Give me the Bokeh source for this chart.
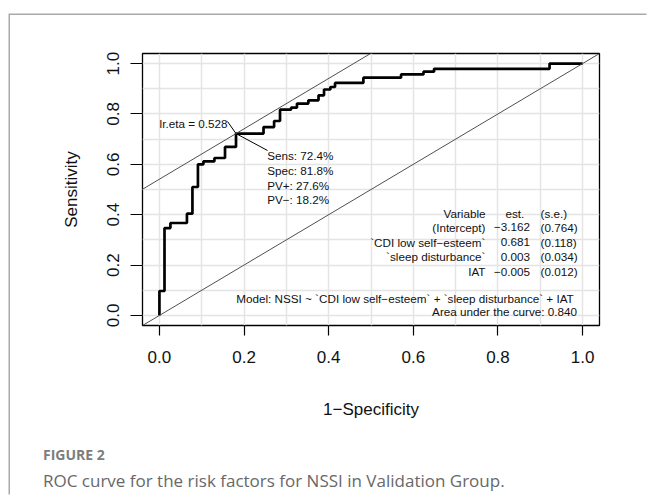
from bokeh.plotting import figure
from bokeh.models import FixedTicker, Slope, Div
from bokeh.layouts import column
from bokeh.core.properties import value
from bokeh.embed import file_html
from bokeh.resources import INLINE

# ---------------- data ----------------
fpr = [0.0, 0.0, 0.012, 0.012, 0.026, 0.026, 0.065, 0.065, 0.078, 0.078,
       0.091, 0.091, 0.104, 0.104, 0.130, 0.130, 0.155, 0.155, 0.181, 0.181,
       0.246, 0.246, 0.271, 0.271, 0.285, 0.285, 0.311, 0.311, 0.325, 0.325,
       0.352, 0.352, 0.376, 0.376, 0.389, 0.389, 0.404, 0.404, 0.415, 0.415,
       0.482, 0.482, 0.571, 0.571, 0.624, 0.624, 0.649, 0.649, 0.922, 0.922, 1.0]
tpr = [0.0, 0.097, 0.097, 0.347, 0.347, 0.367, 0.367, 0.404, 0.404, 0.510,
       0.510, 0.600, 0.600, 0.612, 0.612, 0.625, 0.625, 0.669, 0.669, 0.722,
       0.722, 0.748, 0.748, 0.772, 0.772, 0.817, 0.817, 0.825, 0.825, 0.841,
       0.841, 0.854, 0.854, 0.874, 0.874, 0.897, 0.897, 0.907, 0.907, 0.923,
       0.923, 0.944, 0.944, 0.957, 0.957, 0.968, 0.968, 0.979, 0.979, 1.0, 1.0]

opt_fpr = 0.181
opt_tpr = 0.722
lr_eta_label = "lr.eta = 0.528"
tangent_intercept = 0.541
stats_labels = ["Sens: 72.4%", "Spec: 81.8%", "PV+: 27.6%", "PV\u2212: 18.2%"]

table_header = ["Variable", "est.", "(s.e.)"]
var_names = ["(Intercept)", "`CDI low self\u2212esteem`", "`sleep disturbance`", "IAT"]
est_values = ["\u22123.162", "0.681", "0.003", "\u22120.005"]
se_values = ["(0.764)", "(0.118)", "(0.034)", "(0.012)"]
model_text = "Model:  NSSI ~ `CDI low self\u2212esteem` + `sleep disturbance` + IAT"
auc_text = "Area under the curve: 0.840"

x_ticks = [0.0, 0.2, 0.4, 0.6, 0.8, 1.0]
x_tick_labels = ["0.0", "0.2", "0.4", "0.6", "0.8", "1.0"]
y_ticks = [0.0, 0.2, 0.4, 0.6, 0.8, 1.0]
y_tick_labels = ["0.0", "0.2", "0.4", "0.6", "0.8", "1.0"]
grid_ticks = [0.0, 0.1, 0.2, 0.3, 0.4, 0.5, 0.6, 0.7, 0.8, 0.9, 1.0]

caption_head = "FIGURE 2"
caption_text = "ROC curve for the risk factors for NSSI in Validation Group."

# ---------------- layout helpers ----------------
RFONT = "Liberation Sans"
OX, OY = 10, 15                      # page position of the card / canvas
CW = 648 - OX                        # canvas width
PLOT_BOTTOM = 430                    # page y where the caption block starts
CH = PLOT_BOTTOM - OY                # canvas height
CAP_H = 496 - PLOT_BOTTOM
FRAME_L, FRAME_T, FRAME_W, FRAME_H = 142, 53, 457, 272  # page pixels
X0, X1, Y0, Y1 = -0.04, 1.04, -0.04, 1.04


def to_x(px):
    return X0 + (px - FRAME_L) / FRAME_W * (X1 - X0)


def to_y(py):
    return Y1 - (py - FRAME_T) / FRAME_H * (Y1 - Y0)


p = figure(width=CW, height=CH, x_range=(X0, X1), y_range=(Y0, Y1),
           output_backend="svg", toolbar_location=None,
           min_border_left=FRAME_L - OX, min_border_right=CW - (FRAME_L - OX + FRAME_W),
           min_border_top=FRAME_T - OY, min_border_bottom=CH - (FRAME_T - OY + FRAME_H))
p.background_fill_color = "white"
p.border_fill_color = "white"
p.outline_line_color = "black"
p.outline_line_width = 1.3

# grid
for g in (p.xgrid, p.ygrid):
    g.ticker = FixedTicker(ticks=grid_ticks)
    g.grid_line_color = "#e4e4e4"
    g.grid_line_width = 1.5

# axes
for ax, ticks, labels in [(p.xaxis, x_ticks, x_tick_labels), (p.yaxis, y_ticks, y_tick_labels)]:
    ax.ticker = FixedTicker(ticks=ticks)
    ax.major_label_overrides = dict(zip(ticks, labels))
    ax.axis_line_color = None
    ax.minor_tick_line_color = None
    ax.major_tick_in = 0
    ax.major_tick_line_color = "black"
    ax.major_tick_line_width = 1.2
    ax.major_label_text_font = RFONT
    ax.major_label_text_font_size = "17px"
    ax.major_label_text_font_style = "normal"
    ax.major_label_text_color = "#111111"
    ax.axis_label_text_font = RFONT
    ax.axis_label_text_font_size = "17px"
    ax.axis_label_text_font_style = "normal"
    ax.axis_label_text_color = "#111111"

p.xaxis.major_tick_out = 10
p.xaxis.major_label_standoff = 15
p.xaxis.axis_label = "1\u2212Specificity"
p.xaxis.axis_label_standoff = 34

p.yaxis.major_tick_out = 12
p.yaxis.major_label_orientation = "vertical"
p.yaxis.major_label_standoff = 11
p.yaxis.axis_label = "Sensitivity"
p.yaxis.axis_label_standoff = 24

# reference lines
p.add_layout(Slope(gradient=1, y_intercept=0, line_color="#505050", line_width=1))
p.add_layout(Slope(gradient=1, y_intercept=tangent_intercept, line_color="#505050", line_width=1))

# ROC curve
p.line(fpr, tpr, line_color="black", line_width=2.7)

# optimal point connectors
lab_x, lab_y = to_x(227), to_y(121)
st_x, st_y = to_x(267), to_y(150)
p.segment(x0=[opt_fpr, opt_fpr], y0=[opt_tpr, opt_tpr], x1=[lab_x, st_x], y1=[lab_y, st_y],
          line_color="black", line_width=1)

fs = "11.7px"
TC = "#111111"
p.text(x=[to_x(227)], y=[to_y(123.3)], text=[lr_eta_label], text_font=value(RFONT),
       text_font_size=fs, text_align="right", text_baseline="middle", text_color=TC)

stat_rows = [155, 170, 184.5, 199]
p.text(x=[to_x(266.7)] * 4, y=[to_y(r) for r in stat_rows], text=stats_labels,
       text_font=value(RFONT), text_font_size=fs, text_align="left",
       text_baseline="middle", text_color=TC)

# coefficient table
rows_y = [to_y(r) for r in [212.7, 226.7, 241.7, 256, 271]]
p.text(x=[to_x(485)], y=[rows_y[0]], text=[table_header[0]], text_font=value(RFONT),
       text_font_size=fs, text_align="right", text_baseline="middle", text_color=TC)
p.text(x=[to_x(514.3)], y=[rows_y[0]], text=[table_header[1]], text_font=value(RFONT),
       text_font_size=fs, text_align="center", text_baseline="middle", text_color=TC)
p.text(x=[to_x(540)], y=[rows_y[0]], text=[table_header[2]], text_font=value(RFONT),
       text_font_size=fs, text_align="left", text_baseline="middle", text_color=TC)
p.text(x=[to_x(485)] * 4, y=rows_y[1:], text=var_names, text_font=value(RFONT),
       text_font_size=fs, text_align="right", text_baseline="middle", text_color=TC)
p.text(x=[to_x(529.5)] * 4, y=rows_y[1:], text=est_values, text_font=value(RFONT),
       text_font_size=fs, text_align="right", text_baseline="middle", text_color=TC)
p.text(x=[to_x(540)] * 4, y=rows_y[1:], text=se_values, text_font=value(RFONT),
       text_font_size=fs, text_align="left", text_baseline="middle", text_color=TC)

p.text(x=[to_x(576.5)] * 2, y=[to_y(297.7), to_y(311)], text=[model_text, auc_text],
       text_font=value(RFONT), text_font_size=fs, text_align="right",
       text_baseline="middle", text_color=TC)

# caption block (HTML) below the plot
cap_left = 43 - OX
cap_html = (
    f'<div style="position:relative;width:{CW}px;height:{CAP_H}px;">'
    f'<div style="position:absolute;left:{cap_left}px;top:{455 - PLOT_BOTTOM - 10}px;'
    f'font-family:\'Open Sans\';font-weight:700;font-size:14px;line-height:20px;'
    f'color:#7d7d7d;white-space:nowrap;">{caption_head}</div>'
    f'<div style="position:absolute;left:{cap_left}px;top:{481 - PLOT_BOTTOM - 12}px;'
    f'font-family:\'Open Sans\';font-weight:400;font-size:17px;line-height:24px;'
    f'color:#686868;white-space:nowrap;">{caption_text}</div>'
    f'</div>'
)
cap = Div(text=cap_html, width=CW, height=CAP_H, margin=0)

layout = column(p, cap, spacing=0, margin=(OY, 0, 0, OX),
                styles={"box-shadow": "-1.5px -1.5px 0px 0px #a9a9a9"})

open("out.html", "w").write(file_html(layout, INLINE))
